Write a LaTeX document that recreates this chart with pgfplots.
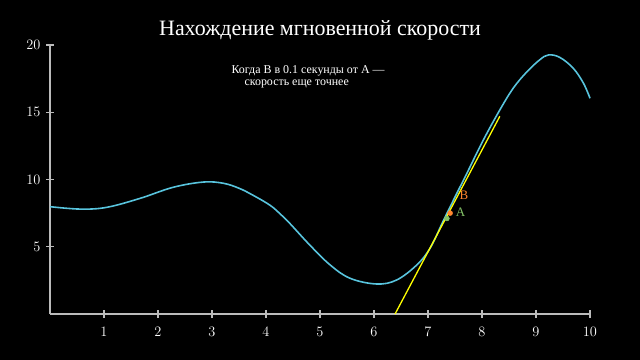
\documentclass[border=0pt]{standalone}
\usepackage{fontspec}
\setmainfont{Liberation Serif}
\usepackage{pgfplots}
\pgfplotsset{compat=1.18}
\definecolor{mblue}{HTML}{58C4DD}
\definecolor{myellow}{HTML}{FFFF00}
\definecolor{mgreen}{HTML}{83C167}
\definecolor{morange}{HTML}{FF862F}
\definecolor{axgrey}{HTML}{BBBBBB}
\begin{document}
\begin{tikzpicture}
\fill[black] (-50bp,-46bp) rectangle (590bp,314bp);
\path[use as bounding box] (-50bp,-46bp) rectangle (590bp,314bp);
\begin{axis}[
  scale only axis, width=540bp, height=269bp,
  xmin=0, xmax=10, ymin=0, ymax=20,
  axis lines=left, axis line style={-, draw=axgrey, line width=1.2pt},
  xtick={1,...,10}, ytick={5,10,15,20},
  every tick/.style={draw=axgrey, line width=1.2pt},
  major tick length=8bp,
  tick align=center,
  ticklabel style={white, font=\fontsize{15}{15}\selectfont},
  xticklabel style={yshift=-6bp},
  yticklabel style={xshift=-2bp},
  clip=false,
]
\addplot[mblue, line width=1.6pt, smooth, tension=0.6] coordinates {
(0,7.98) (0.56,7.8) (1.05,7.93) (1.67,8.6) (2.28,9.42) (2.84,9.81) (3.21,9.72)
(3.5,9.35) (3.75,8.85) (4.07,8.1) (4.26,7.45) (4.44,6.74) (4.81,5.13) (5.19,3.64)
(5.56,2.65) (6.05,2.23) (6.42,2.53) (6.79,3.64) (7.04,4.9) (7.28,6.9) (7.5,8.7)
(7.72,10.46) (8.02,12.9) (8.33,15.17) (8.58,16.8) (8.83,18.0) (9.07,18.9) (9.23,19.26)
(9.44,19.08) (9.69,18.27) (9.88,17.15) (10,16.04)
};
\addplot[myellow, line width=1.3pt] coordinates {(6.39,0) (8.33,14.7)};
\addplot[only marks, mark=*, mark size=2.5bp, mgreen] coordinates {(7.35,7.1)};
\addplot[only marks, mark=*, mark size=2.5bp, morange] coordinates {(7.41,7.5)};
\node[mgreen, font=\fontsize{13}{13}\selectfont, anchor=west] at (axis cs:7.45,7.6) {A};
\node[morange, font=\fontsize{13}{13}\selectfont, anchor=west] at (axis cs:7.52,8.8) {B};
\end{axis}
\node[white, font=\fontsize{22}{22}\selectfont] at (270bp,284bp) {Нахождение мгновенной скорости};
\node[white, font=\fontsize{12}{13}\selectfont, align=left, anchor=north west] at (178bp,252bp) {Когда B в 0.1 секунды от A —\\[-1pt]\hspace{13bp}скорость еще точнее};
\end{tikzpicture}
\end{document}
